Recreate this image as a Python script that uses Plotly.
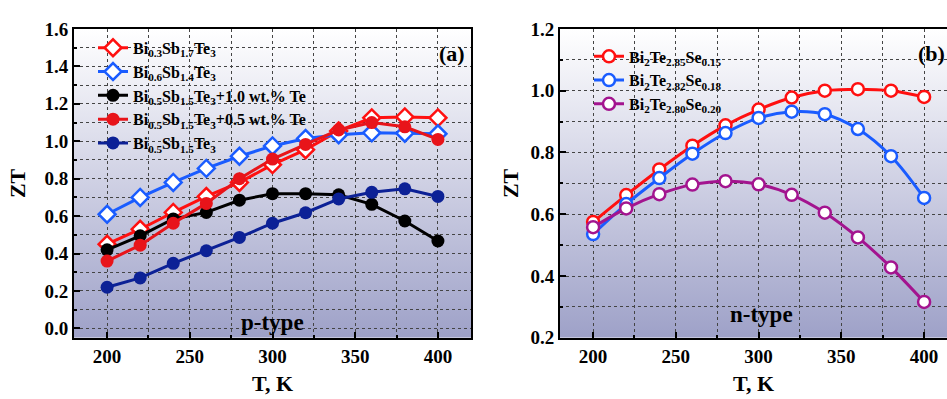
import base64
import plotly.graph_objects as go

# ---------------- data ----------------
T = [200, 220, 240, 260, 280, 300, 320, 340, 360, 380, 400]

# panel (a) p-type
zt_a_bi03 = [0.45, 0.53, 0.62, 0.705, 0.78, 0.875, 0.955, 1.055, 1.125, 1.13, 1.125]
zt_a_bi06 = [0.61, 0.70, 0.78, 0.855, 0.92, 0.975, 1.015, 1.035, 1.045, 1.043, 1.04]
zt_a_te10 = [0.42, 0.495, 0.585, 0.62, 0.685, 0.72, 0.72, 0.714, 0.663, 0.574, 0.467]
zt_a_te05 = [0.36, 0.445, 0.562, 0.668, 0.80, 0.905, 0.983, 1.06, 1.10, 1.077, 1.01]
zt_a_bi05 = [0.22, 0.27, 0.348, 0.415, 0.486, 0.562, 0.618, 0.692, 0.727, 0.746, 0.705]

# panel (b) n-type
zt_b_se15 = [0.575, 0.662, 0.745, 0.822, 0.888, 0.939, 0.978, 1.0, 1.005, 1.0, 0.98]
zt_b_se18 = [0.536, 0.633, 0.717, 0.796, 0.863, 0.912, 0.932, 0.924, 0.876, 0.788, 0.653]
zt_b_se20 = [0.558, 0.619, 0.665, 0.696, 0.707, 0.697, 0.663, 0.605, 0.525, 0.428, 0.316]

names_a = [
    "Bi<sub>0.3</sub>Sb<sub>1.7</sub>Te<sub>3</sub>",
    "Bi<sub>0.6</sub>Sb<sub>1.4</sub>Te<sub>3</sub>",
    "Bi<sub>0.5</sub>Sb<sub>1.5</sub>Te<sub>3</sub>+1.0 wt.% Te",
    "Bi<sub>0.5</sub>Sb<sub>1.5</sub>Te<sub>3</sub>+0.5 wt.% Te",
    "Bi<sub>0.5</sub>Sb<sub>1.5</sub>Te<sub>3</sub>",
]
names_b = [
    "Bi<sub>2</sub>Te<sub>2.85</sub>Se<sub>0.15</sub>",
    "Bi<sub>2</sub>Te<sub>2.82</sub>Se<sub>0.18</sub>",
    "Bi<sub>2</sub>Te<sub>2.80</sub>Se<sub>0.20</sub>",
]

FONT = "Liberation Serif"
RED = "#ff1010"
BLUE = "#1a5cff"
BLACK = "#000000"
RED2 = "#e8141a"
NAVY = "#0c2196"
PURPLE = "#a3148f"

fig = go.Figure()

series_a = [
    (zt_a_bi03, names_a[0], RED, True),
    (zt_a_bi06, names_a[1], BLUE, True),
    (zt_a_te10, names_a[2], BLACK, False),
    (zt_a_te05, names_a[3], RED2, False),
    (zt_a_bi05, names_a[4], NAVY, False),
]
for i, (ys, nm, col, open_) in enumerate(series_a):
    fig.add_trace(go.Scatter(
        x=T, y=ys, name=nm, mode="lines+markers",
        line=dict(color=col, width=3),
        marker=dict(symbol="diamond" if open_ else "circle", size=13,
                    color="white" if open_ else col,
                    line=dict(color=col, width=2.5 if open_ else 0)),
        xaxis="x", yaxis="y", legend="legend",
    ))

series_b = [
    (zt_b_se15, names_b[0], RED),
    (zt_b_se18, names_b[1], BLUE),
    (zt_b_se20, names_b[2], PURPLE),
]
for i, (ys, nm, col) in enumerate(series_b):
    fig.add_trace(go.Scatter(
        x=T, y=ys, name=nm, mode="lines+markers",
        line=dict(color=col, width=3, shape="spline"),
        marker=dict(symbol="circle", size=12, color="white", line=dict(color=col, width=2.5)),
        xaxis="x2", yaxis="y2", legend="legend2",
    ))

svg = ('<svg xmlns="http://www.w3.org/2000/svg" width="100" height="100" preserveAspectRatio="none">'
       '<defs><linearGradient id="g" x1="0" y1="0" x2="0" y2="1">'
       '<stop offset="0" stop-color="#ffffff"/><stop offset="1" stop-color="#9ea1c8"/>'
       '</linearGradient></defs><rect width="100" height="100" fill="url(#g)"/></svg>')
src = "data:image/svg+xml;base64," + base64.b64encode(svg.encode()).decode()

W, H = 947, 399
def px(x):
    return x / W
def py(y):
    return 1 - y / H

grid = dict(showgrid=True, gridcolor="#444444", gridwidth=1, griddash="dot")
tickfont = dict(family=FONT, size=19, color="black", weight="bold")
titlefont = dict(family=FONT, size=22, color="black", weight="bold")

def xax(domain, rng, mirror=True):
    return dict(domain=domain, range=rng, dtick=50, tick0=200, ticks="inside", ticklen=6, tickwidth=2,
                tickcolor="black", showline=True, linecolor="black", linewidth=2, mirror=mirror,
                tickfont=tickfont, zeroline=False,
                minor=dict(dtick=25, ticks="inside", ticklen=3, tickwidth=1.5, tickcolor="black",
                           showgrid=True, gridcolor="#444444", gridwidth=1, griddash="dot"),
                title=dict(text="T, K", font=titlefont, standoff=10), **grid)

def yax(domain, rng, dtick, mdtick, anchor, standoff, mirror=True):
    return dict(domain=domain, range=rng, dtick=dtick, ticks="inside", ticklen=6, tickwidth=2,
                tickcolor="black", showline=True, linecolor="black", linewidth=2, mirror=mirror,
                tickfont=tickfont, zeroline=False, anchor=anchor, tickformat=".1f",
                minor=dict(dtick=mdtick, ticks="inside", ticklen=3, tickwidth=1.5, tickcolor="black",
                           showgrid=True, gridcolor="#444444", gridwidth=1, griddash="dot"),
                title=dict(text="ZT", font=titlefont, standoff=standoff), **grid)

legfont = dict(family=FONT, size=16, color="black", weight="bold")
ydom = [py(346), py(20)]
fig.update_layout(
    width=W, height=H, margin=dict(l=0, r=0, t=0, b=0),
    paper_bgcolor="white", plot_bgcolor="rgba(0,0,0,0)",
    xaxis=dict(**xax([px(74), px(471)], [180, 420]), anchor="y"),
    yaxis=yax(ydom, [-0.05, 1.6], 0.2, 0.1, "x", 13),
    xaxis2=dict(**xax([px(560), 1.0], [180, 180 + (947 - 560) / 1.655]), anchor="y2"),
    yaxis2=yax(ydom, [0.2, 1.2], 0.2, 0.1, "x2", 6, mirror=False),
    legend=dict(x=px(93), y=py(22), xanchor="left", yanchor="top", bgcolor="rgba(0,0,0,0)",
                font=legfont, tracegroupgap=0, itemwidth=30),
    legend2=dict(x=px(589), y=py(31), xanchor="left", yanchor="top", bgcolor="rgba(0,0,0,0)",
                 font=legfont, tracegroupgap=0, itemwidth=30),
    showlegend=True,
    images=[
        dict(source=src, xref="x domain", yref="y domain", x=0, y=1, sizex=1, sizey=1,
             sizing="stretch", layer="below", xanchor="left", yanchor="top"),
        dict(source=src, xref="x2 domain", yref="y2 domain", x=0, y=1, sizex=1, sizey=1,
             sizing="stretch", layer="below", xanchor="left", yanchor="top"),
    ],
    annotations=[
        dict(text="(a)", xref="paper", yref="paper", x=px(467), y=py(46), showarrow=False,
             xanchor="right", yanchor="middle",
             font=dict(family=FONT, size=22, color="black", weight="bold")),
        dict(text="p-type", xref="x", yref="y", x=300, y=0.03, showarrow=False,
             xanchor="center", yanchor="middle",
             font=dict(family=FONT, size=23, color="black", weight="bold")),
        dict(text="(b)", xref="paper", yref="paper", x=1.0, y=py(46), showarrow=False,
             xanchor="right", yanchor="middle",
             font=dict(family=FONT, size=22, color="black", weight="bold")),
        dict(text="n-type", xref="x2", yref="y2", x=302, y=0.275, showarrow=False,
             xanchor="center", yanchor="middle",
             font=dict(family=FONT, size=23, color="black", weight="bold")),
    ],
)

fig.write_html("out.html")
